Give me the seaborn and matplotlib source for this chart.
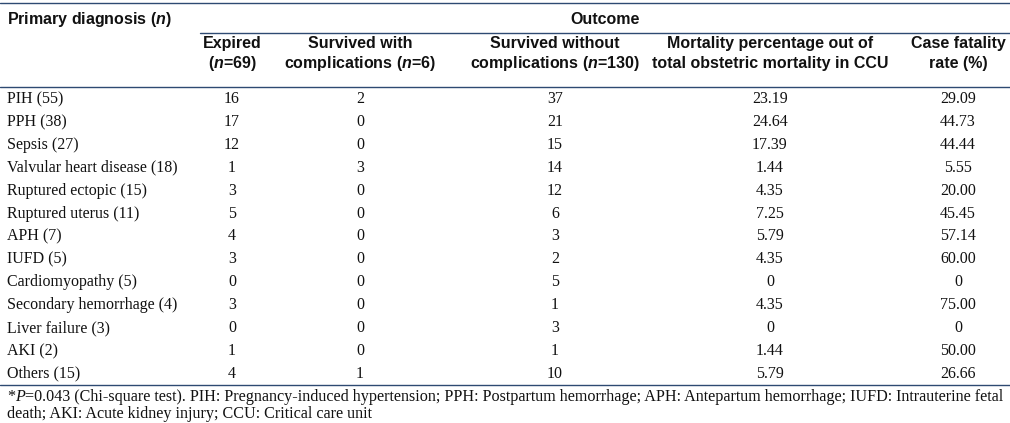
import numpy as np
import seaborn as sns
import matplotlib.pyplot as plt

# table data
diagnoses = ['PIH (55)', 'PPH (38)', 'Sepsis (27)', 'Valvular heart disease (18)',
             'Ruptured ectopic (15)', 'Ruptured uterus (11)', 'APH (7)', 'IUFD (5)',
             'Cardiomyopathy (5)', 'Secondary hemorrhage (4)', 'Liver failure (3)',
             'AKI (2)', 'Others (15)']
expired = [16, 17, 12, 1, 3, 5, 4, 3, 0, 3, 0, 1, 4]
survived_with = [2, 0, 0, 3, 0, 0, 0, 0, 0, 0, 0, 0, 1]
survived_without = [37, 21, 15, 14, 12, 6, 3, 2, 5, 1, 3, 1, 10]
mortality_pct = [23.19, 24.64, 17.39, 1.44, 4.35, 7.25, 5.79, 4.35, 0, 4.35, 0, 1.44, 5.79]
case_fatality = [29.09, 44.73, 44.44, 5.55, 20.00, 45.45, 57.14, 60.00, 0, 75.00, 0, 50.00, 26.66]

col_headers = [('Expired', '($\\it{n}$=69)'),
               ('Survived with', 'complications ($\\it{n}$=6)'),
               ('Survived without', 'complications ($\\it{n}$=130)'),
               ('Mortality percentage out of', 'total obstetric mortality in CCU'),
               ('Case fatality', 'rate (%)')]
foot_line1 = ('=0.043 (Chi-square test). PIH: Pregnancy-induced hypertension; PPH: Postpartum hemorrhage; '
              'APH: Antepartum hemorrhage; IUFD: Intrauterine fetal')
foot_line2 = 'death; AKI: Acute kidney injury; CCU: Critical care unit'

sns.set_theme(style='white')
plt.rcParams['mathtext.fontset'] = 'custom'
plt.rcParams['mathtext.it'] = 'Liberation Sans:italic:bold'
plt.rcParams['mathtext.rm'] = 'Liberation Sans:bold'

head_font = ['Liberation Sans Narrow', 'Liberation Sans']
body_font = ['Liberation Serif', 'DejaVu Serif']
line_c = '#2e4a72'
txt_c = '#111111'

fig = plt.figure(figsize=(10.10, 4.23), dpi=100)
ax = fig.add_axes([0, 0, 1, 1])
ax.set_xlim(0, 1010)
ax.set_ylim(423, 0)
ax.axis('off')

col_x = [232, 360, 555, 770, 958]
row_y0, row_dy = 99, 22.9

# rules
ax.axhline(3, color=line_c, lw=1.0)
ax.plot([200, 1010], [33, 33], color=line_c, lw=1.0)
ax.axhline(87, color=line_c, lw=1.0)
ax.axhline(385, color=line_c, lw=1.0)

# headers
ax.text(7, 24, 'Primary diagnosis ($\\it{n}$)', family=head_font, weight='bold',
        fontsize=11.5, va='baseline', ha='left', color=txt_c)
ax.text(605, 24, 'Outcome', family=head_font, weight='bold', fontsize=11.5,
        va='baseline', ha='center', color=txt_c)
for x, (h1, h2) in zip(col_x, col_headers):
    ax.text(x, 48, h1, family=head_font, weight='bold', fontsize=11.5, va='baseline',
            ha='center', color=txt_c)
    ax.text(x, 68, h2, family=head_font, weight='bold', fontsize=11.5, va='baseline',
            ha='center', color=txt_c)


def fmt(v):
    return '0' if v == 0 else f'{v:.2f}'


for i, name in enumerate(diagnoses):
    y = row_y0 + i * row_dy
    vals = [str(expired[i]), str(survived_with[i]), str(survived_without[i]),
            fmt(mortality_pct[i]), fmt(case_fatality[i])]
    ax.text(7, y, name, family=body_font, fontsize=11.5, va='center', ha='left', color=txt_c)
    for x, v in zip(col_x, vals):
        ax.text(x, y, v, family=body_font, fontsize=11.5, va='center', ha='center', color=txt_c)

# footnote, "*P" with italic P chained on the same baseline
t1 = ax.text(7, 401, '*', family=body_font, fontsize=11.6, va='baseline', ha='left', color=txt_c)
t2 = ax.annotate('P', xy=(1, 0), xycoords=t1, va='bottom', ha='left', family=body_font,
                 style='italic', fontsize=11.6, color=txt_c)
ax.annotate(foot_line1, xy=(1, 0), xycoords=t2, va='bottom', ha='left', family=body_font,
            fontsize=11.6, color=txt_c)
ax.text(7, 418, foot_line2, family=body_font, fontsize=11.6, va='baseline', ha='left', color=txt_c)

fig.savefig('out.png', dpi=100)
